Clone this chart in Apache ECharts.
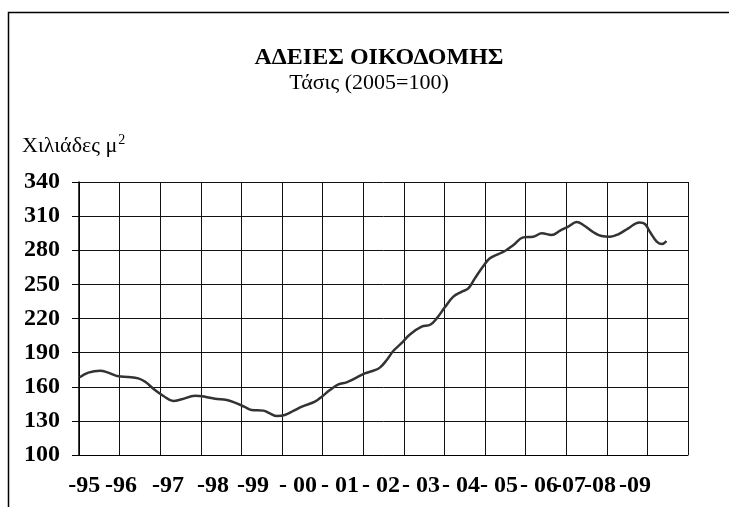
<!DOCTYPE html>
<html>
<head>
<meta charset="utf-8">
<script src="https://cdn.jsdelivr.net/npm/echarts@6/dist/echarts.min.js"></script>
<style>html,body{margin:0;padding:0;background:#fff}#c{width:729px;height:507px}</style>
</head>
<body>
<div id="c"></div>
<script>
// ---- data ----
const yearLabels = ["-95","-96","-97","-98","-99","- 00","- 01","- 02","- 03","- 04","- 05","- 06","-07","-08","-09"];
const yearStart = 1995;
const years = [1995.02,1995.23,1995.52,1995.72,1995.97,1996.21,1996.46,1996.63,1996.87,1997.08,1997.32,1997.53,1997.86,1998.10,1998.35,1998.64,1998.84,1999.07,1999.25,1999.54,1999.70,1999.87,2000.07,2000.28,2000.49,2000.81,2000.98,2001.18,2001.39,2001.59,2001.80,2002.04,2002.25,2002.41,2002.58,2002.74,2002.95,2003.15,2003.44,2003.65,2003.81,2004.01,2004.22,2004.43,2004.59,2004.75,2004.96,2005.12,2005.33,2005.49,2005.70,2005.94,2006.19,2006.40,2006.64,2006.85,2007.05,2007.26,2007.42,2007.67,2007.87,2008.08,2008.28,2008.53,2008.80,2008.94,2009.06,2009.23,2009.35,2009.47];
const values = [168.3,172.4,174.1,172.4,169.2,168.6,167.4,164.4,157.1,151.9,147.5,149.0,152.1,151.3,149.5,148.4,146.0,142.5,139.6,139.0,136.6,134.3,135.2,138.7,142.5,146.9,151.3,157.1,162.1,163.9,167.4,171.8,174.1,176.8,183.5,191.4,198.5,206.0,212.8,214.5,220.1,229.8,239.2,243.6,246.5,255.3,266.2,272.9,276.7,279.3,284.6,291.3,291.9,294.9,293.4,297.3,300.8,304.8,302.2,295.8,292.5,291.9,294.0,299.3,304.5,303.1,296.3,287.5,285.5,288.1];
const yMin = 100, yMax = 340, yStep = 30;

// ---- style constants ----
const FONT = '"Liberation Serif", "Times New Roman", serif';
const labelShift = [-15,-19,-12.5,-8,-8.7,-4.3,-3,-2.5,-3,-3.7,-6.3,-7,-16.5,-27,-32.7];

const rich = {};
labelShift.forEach((s, i) => {
  rich['s' + i] = {fontFamily: FONT, fontWeight: 'bold', fontSize: 24, color: '#000', padding: [0, -2 * s, 0, 0]};
});

const chart = echarts.init(document.getElementById('c'), null, {renderer: 'canvas'});
chart.setOption({
  animation: false,
  backgroundColor: '#fff',
  title: [
    {text: 'ΑΔΕΙΕΣ ΟΙΚΟΔΟΜΗΣ', left: 374, top: 41, textAlign: 'center',
     textStyle: {fontFamily: FONT, fontWeight: 'bold', fontSize: 24, color: '#000'}},
    {text: 'Τάσις (2005=100)', left: 364, top: 67, textAlign: 'center',
     textStyle: {fontFamily: FONT, fontWeight: 'normal', fontSize: 22, color: '#000'}}
  ],
  graphic: [
    {type: 'polyline', shape: {points: [[8.5, 507], [8.5, 12.5], [729, 12.5]]}, style: {stroke: '#000', lineWidth: 1.5, fill: null}, silent: true},
    {type: 'text', left: 22, top: 133, style: {
      text: '{a|Χιλιάδες μ}{b|2}',
      rich: {
        a: {fontFamily: FONT, fontSize: 22, color: '#000', lineHeight: 27},
        b: {fontFamily: FONT, fontSize: 14, color: '#000', verticalAlign: 'top', lineHeight: 27, padding: [0, 0, 0, 1]}
      }}}
  ],
  grid: {left: 79, right: 41, top: 182, bottom: 52},
  xAxis: [
    {type: 'category', data: yearLabels, boundaryGap: true,
     axisLine: {show: true, lineStyle: {color: '#000', width: 1}},
     axisTick: {show: false},
     splitLine: {show: true, interval: 0, lineStyle: {color: '#111', width: 1}},
     axisLabel: {interval: 0, margin: 19, formatter: (v, i) => '{s' + i + '|' + v + '}', rich: rich,
                 fontFamily: FONT, fontWeight: 'bold', fontSize: 24, color: '#000'}},
    {type: 'value', min: yearStart, max: yearStart + yearLabels.length, show: false}
  ],
  yAxis: {
    type: 'value', min: yMin, max: yMax, interval: yStep,
    axisLine: {show: true, lineStyle: {color: '#000', width: 1.5}},
    axisTick: {show: true, inside: false, length: 7, lineStyle: {color: '#000'}},
    splitLine: {show: true, lineStyle: {color: '#111', width: 1}},
    axisLabel: {margin: 19, fontFamily: FONT, fontWeight: 'bold', fontSize: 24, color: '#000'}
  },
  series: [{
    type: 'line', xAxisIndex: 1, smooth: 0.4, symbol: 'none',
    data: years.map((y, i) => [y, values[i]]),
    lineStyle: {color: '#333', width: 2.5}
  }]
});
</script>
</body>
</html>
